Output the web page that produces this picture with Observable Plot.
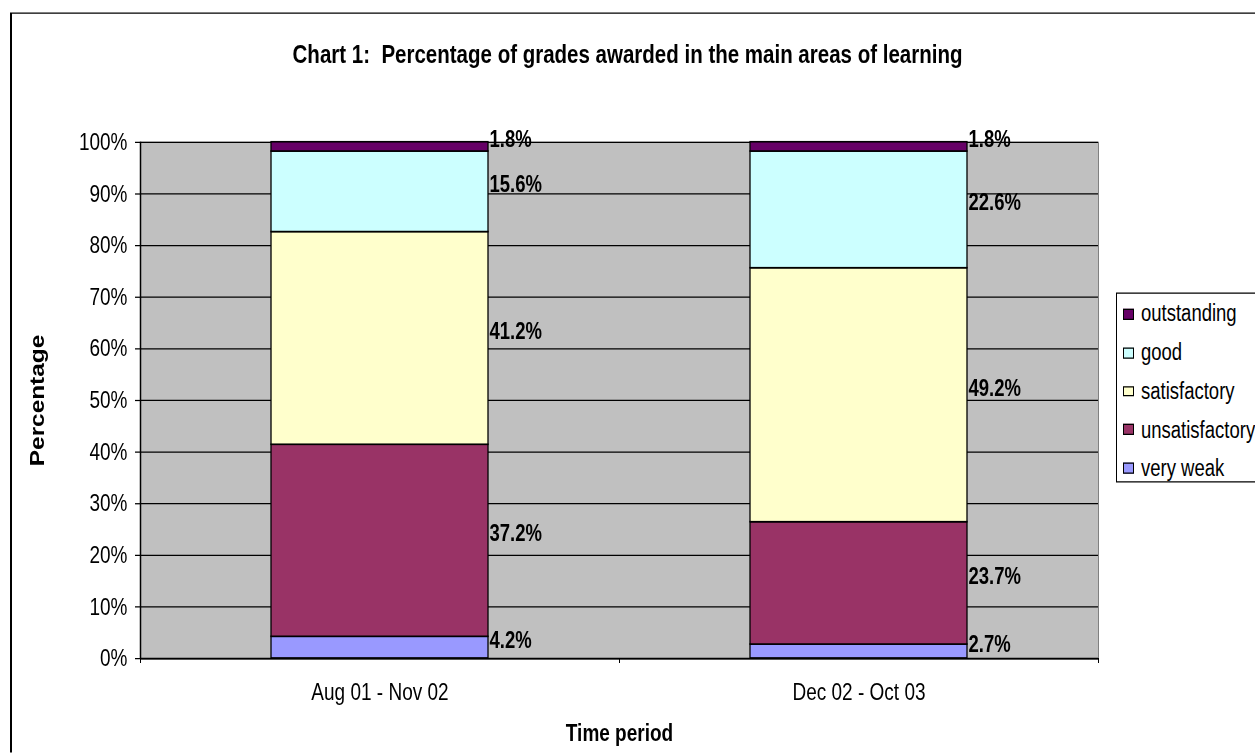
<!DOCTYPE html>
<html>
<head>
<meta charset="utf-8">
<script src="https://cdn.jsdelivr.net/npm/d3@7"></script>
<script src="https://cdn.jsdelivr.net/npm/@observablehq/plot@0.6"></script>
<style>
  html, body { margin: 0; padding: 0; background: #fff; overflow: hidden; width: 1255px; height: 753px; }
  /* The original picture is an Excel chart stretched vertically by ~1.25; reproduce that stretch */
  #wrap { position: absolute; left: 0; top: 0; width: 1255px; height: 602.4px; overflow: hidden;
          transform: scale(1, 1.25); transform-origin: 0 0;
          font-family: "Liberation Sans", Arial, sans-serif; }
  #border { position: absolute; left: 10px; top: 10.4px; width: 1400px; height: 900px; border: 2px solid #000; border-top-width: 1.6px; box-sizing: border-box; }
  #title { position: absolute; left: 10px; width: 1235px; top: 30.5px; line-height: 24px; text-align: center; font-weight: bold; font-size: 20.5px; color: #000; white-space: pre; }
  #chart { position: absolute; left: 0; top: 0; }
  #legend { position: absolute; left: 1116px; top: 233.6px; width: 200px; height: 152px; border: 1px solid #000; border-top-width: 0.8px; border-bottom-width: 0.8px; background: #fff; box-sizing: border-box; padding-top: 1.4px; }
  .item { display: flex; align-items: center; height: 30.8px; font-size: 18.5px; color: #000; }
  .sw { width: 11px; height: 8.8px; border: 1px solid #000; border-top-width: 0.8px; border-bottom-width: 0.8px; box-sizing: border-box; margin-left: 6px; margin-right: 7px; flex: none; }
</style>
</head>
<body>
<div id="wrap">
  <div id="border"></div>
  <div id="chart"></div>
  <div id="title">Chart 1:  Percentage of grades awarded in the main areas of learning</div>
  <div id="legend"></div>
</div>
<script>
const categories = ["Aug 01 - Nov 02", "Dec 02 - Oct 03"];
const grades = ["very weak", "unsatisfactory", "satisfactory", "good", "outstanding"];
const gradeColors = ["#9999FF", "#993366", "#FFFFCC", "#CCFFFF", "#660066"];
const period1 = [4.2, 37.2, 41.2, 15.6, 1.8];
const period2 = [2.7, 23.7, 49.2, 22.6, 1.8];
const yTicks = [0, 10, 20, 30, 40, 50, 60, 70, 80, 90, 100];
const xTitle = "Time period";
const yTitle = "Percentage";

const data = [];
[period1, period2].forEach((vals, i) => {
  let acc = 0;
  vals.forEach((v, j) => {
    data.push({i, category: categories[i], grade: grades[j], value: v, y1: acc, y2: acc + v});
    acc += v;
  });
});

const font = '"Liberation Sans", Arial, sans-serif';
const barInset = 131;

const chart = Plot.plot({
  width: 1255,
  height: 602.4,
  marginLeft: 140,
  marginRight: 157,
  marginTop: 113.4,
  marginBottom: 76,
  x: {domain: [0, 2], axis: null},
  y: {domain: [0, 100], axis: null},
  color: {domain: grades, range: gradeColors},
  style: {fontFamily: font, background: "transparent", color: "#000", overflow: "visible"},
  marks: [
    Plot.frame({fill: "#C0C0C0", stroke: "#808080"}),
    Plot.gridY(yTicks, {stroke: "#000", strokeOpacity: 1, strokeWidth: 1}),
    Plot.rect(data, {x1: "i", x2: d => d.i + 1, y1: "y1", y2: "y2", fill: "grade", stroke: "#000", strokeWidth: 1.3, insetLeft: barInset, insetRight: barInset}),
    Plot.text(data, {x: d => d.i + 1, y: d => (d.y1 + d.y2) / 2, text: d => d.value.toFixed(1) + "%", textAnchor: "start", dx: -barInset + 1, dy: -5.6, fontWeight: "bold", fontSize: 18.5, fill: "#000"}),
    Plot.ruleX([0], {stroke: "#000", strokeWidth: 1.5}),
    Plot.ruleY([0], {stroke: "#000", strokeWidth: 1.3}),
    Plot.axisY(yTicks, {tickFormat: d => d + "%", tickSize: 5, tickPadding: 8, fontSize: 19, label: null, stroke: "#000"}),
    Plot.axisX([0, 1, 2], {tickSize: 4, tickFormat: () => "", label: null, stroke: "#000"}),
    Plot.text(categories, {x: (d, i) => i + 0.5, frameAnchor: "bottom", dy: 27.4, lineAnchor: "middle", fontSize: 19, fill: "#000"}),
    Plot.text([xTitle], {frameAnchor: "bottom", dy: 60, lineAnchor: "middle", fontSize: 19, fontWeight: "bold", fill: "#000"}),
    Plot.text([yTitle], {frameAnchor: "left", dx: -103, rotate: -90, textAnchor: "middle", lineAnchor: "middle", fontSize: 19.5, fontWeight: "bold", fill: "#000"})
  ]
});
document.getElementById("chart").appendChild(chart);

const legend = document.getElementById("legend");
grades.slice().reverse().forEach((g) => {
  const idx = grades.indexOf(g);
  const item = document.createElement("div");
  item.className = "item";
  const sw = document.createElement("span");
  sw.className = "sw";
  sw.style.background = gradeColors[idx];
  const label = document.createElement("span");
  label.textContent = g;
  item.appendChild(sw);
  item.appendChild(label);
  legend.appendChild(item);
});
</script>
</body>
</html>
